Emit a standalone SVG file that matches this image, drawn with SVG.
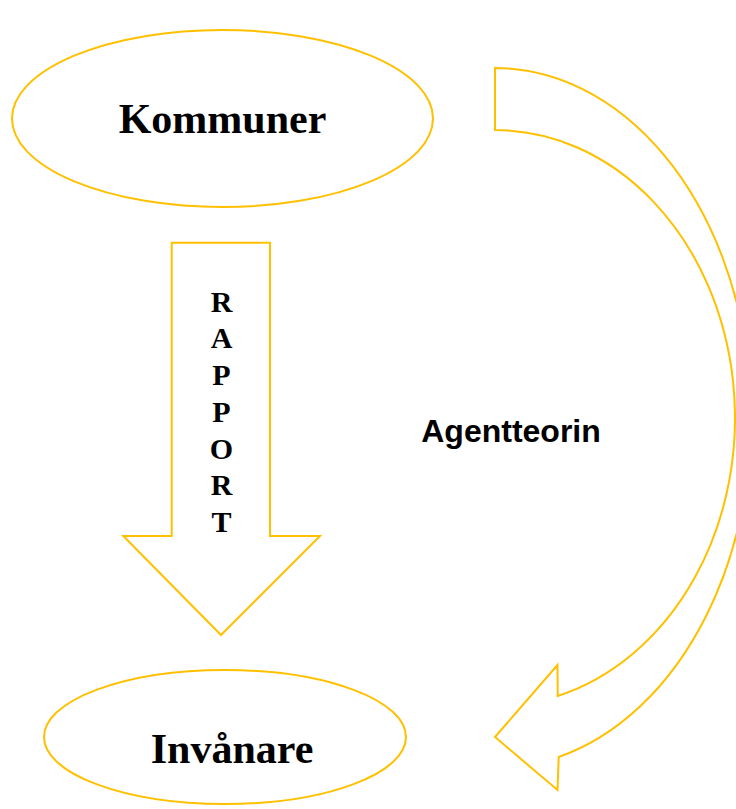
<svg xmlns="http://www.w3.org/2000/svg" width="736" height="809" viewBox="0 0 736 809">
<style>
.shape{fill:#fff;stroke:#FFC000;stroke-width:2;stroke-linejoin:miter}
.node{font-family:"Liberation Serif","Times New Roman",serif;font-weight:bold;fill:#000}
.lbl{font-family:"Liberation Sans",Arial,sans-serif;font-weight:bold;font-size:32px;fill:#000}
</style>
<rect width="736" height="809" fill="#fff"/>
<g id="connectors">
  <g id="rapport-arrow">
    <polygon class="shape" points="171.7,242.7 270,242.7 270,536 320,536 221,635 123.3,536 171.7,536"/>
    <g class="node" font-size="30" text-anchor="middle">
      <text x="221.5" y="311.7">R</text>
      <text x="221.5" y="348.4">A</text>
      <text x="221.5" y="385.1">P</text>
      <text x="221.5" y="421.8">P</text>
      <text x="221.5" y="458.5">O</text>
      <text x="221.5" y="495.2">R</text>
      <text x="221.5" y="531.9">T</text>
    </g>
  </g>
  <g id="agentteorin-arrow">
    <path class="shape" d="M495,68 A256,350 0 0 1 558.7,757 L557.5,790 L495,737 L557.5,665 L557.7,696 A240,288 0 0 0 495,130 Z"/>
    <text class="lbl" x="511" y="441.7" text-anchor="middle">Agentteorin</text>
  </g>
</g>
<g id="kommuner">
  <ellipse class="shape" cx="222.5" cy="118.5" rx="210.5" ry="88.5"/>
  <text class="node" x="222.5" y="132.7" font-size="42" text-anchor="middle">Kommuner</text>
</g>
<g id="invanare">
  <ellipse class="shape" cx="225" cy="737" rx="181" ry="67"/>
  <text class="node" x="232" y="762.7" font-size="42" text-anchor="middle">Invånare</text>
</g>
</svg>
